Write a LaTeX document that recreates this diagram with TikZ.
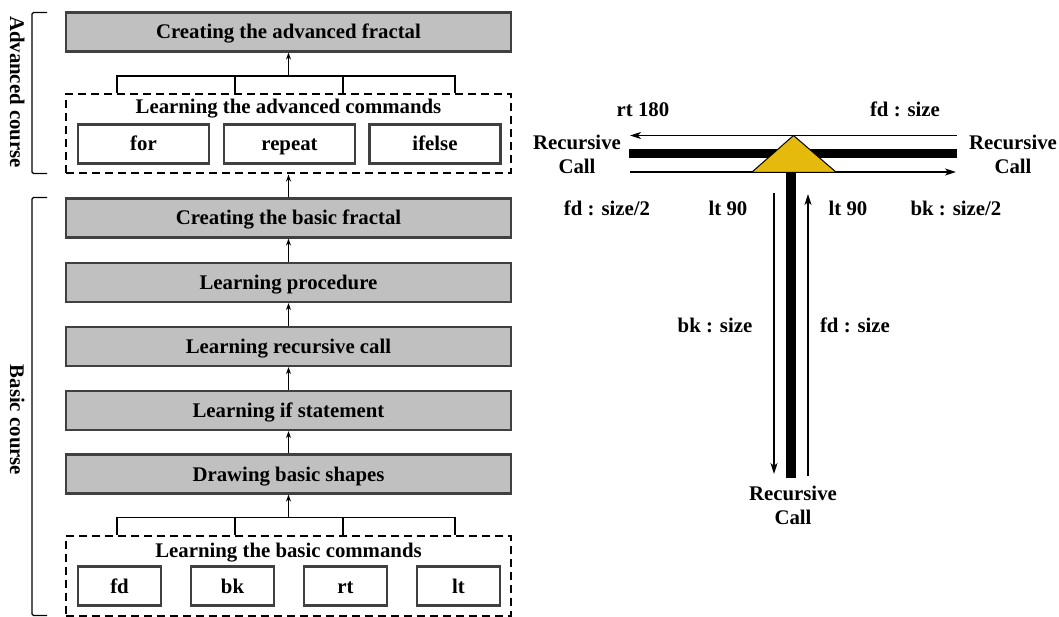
\documentclass[tikz,border=0pt]{standalone}
\usepackage{fontspec}
\setmainfont{Liberation Serif}
\usetikzlibrary{arrows.meta}
\definecolor{boxgray}{HTML}{C0C0C0}
\definecolor{boxline}{HTML}{404040}
\definecolor{triyellow}{HTML}{E6BA0C}
\newcommand{\lblfont}{\fontsize{20.8}{24}\selectfont\bfseries}
\begin{document}
\begin{tikzpicture}[x=1pt,y=-1pt,
  font=\lblfont,
  every node/.style={text height=17pt, text depth=3pt},
  stagebox/.style={draw=boxline, line width=2.2pt, fill=boxgray,
    minimum width=445pt, minimum height=39pt, inner sep=0pt},
  cmdbox/.style={draw=boxline, line width=2.2pt, fill=white,
    minimum height=39pt, inner sep=0pt},
  groupbox/.style={draw=black, line width=2pt, dash pattern=on 8pt off 5pt,
    minimum width=445pt, inner sep=0pt, text height=0pt, text depth=0pt},
  conn/.style={draw=black, line width=1.3pt},
  arr/.style={conn, -{Stealth[length=7pt,width=5pt]}},
  brk/.style={draw=black, line width=1.4pt, rounded corners=1.5pt},
  tline/.style={draw=black, line width=1.6pt},
  tarr/.style={tline, -{Stealth[length=11pt,width=7pt,inset=3pt]}},
  thick bar/.style={draw=black, line width=9.5pt},
  lbl/.style={inner sep=0pt, align=center},
  twoline/.style={lbl, text height=, text depth=}
]
\useasboundingbox (0,0) rectangle (1059,617);

% ---------- left column: course stages ----------
\node[stagebox] (adv) at (288.5,32) {Creating the advanced fractal};

\node[groupbox, minimum height=79pt] (advcmd) at (288.5,134) {};
\node[lbl] (advlbl) at (288.5,107) {Learning the advanced commands};
\node[cmdbox, minimum width=131pt] (cfor) at (143.5,144) {for};
\node[cmdbox, minimum width=131pt] (crep) at (289.5,144) {repeat};
\node[cmdbox, minimum width=131pt] (cife) at (435,144) {ifelse};

\node[stagebox] (basicf) at (288.5,218) {Creating the basic fractal};
\node[stagebox] (proc)   at (288.5,282.5) {Learning procedure};
\node[stagebox] (rec)    at (288.5,346.5) {Learning recursive call};
\node[stagebox] (ifst)   at (288.5,410.5) {Learning if statement};
\node[stagebox] (shapes) at (288.5,474) {Drawing basic shapes};

\node[groupbox, minimum height=80pt] (bascmd) at (288.5,575.5) {};
\node[lbl] (baslbl) at (288.5,550) {Learning the basic commands};
\node[cmdbox, minimum width=83pt] (cfd) at (119.5,586) {fd};
\node[cmdbox, minimum width=83pt] (cbk) at (232.5,586) {bk};
\node[cmdbox, minimum width=83pt] (crt) at (345.5,586) {rt};
\node[cmdbox, minimum width=83pt] (clt) at (458.5,586) {lt};

% comb joining the advanced commands
\coordinate (a1) at (117,76);
\coordinate (a2) at (235,76);
\coordinate (a3) at (343,76);
\coordinate (a4) at (455,76);
\coordinate (ahub) at (288.5,76);
\draw[conn] (a1 |- advcmd.north) -- (a1) -- (a4) -- (a4 |- advcmd.north);
\draw[conn] (a2) -- (a2 |- advcmd.north);
\draw[conn] (a3) -- (a3 |- advcmd.north);
\draw[arr] (ahub) -- (adv.south);

% comb joining the basic commands
\coordinate (b1) at (117,517.5);
\coordinate (b2) at (235,517.5);
\coordinate (b3) at (343,517.5);
\coordinate (b4) at (455,517.5);
\coordinate (bhub) at (288.5,517.5);
\draw[conn] (b1 |- bascmd.north) -- (b1) -- (b4) -- (b4 |- bascmd.north);
\draw[conn] (b2) -- (b2 |- bascmd.north);
\draw[conn] (b3) -- (b3 |- bascmd.north);
\draw[arr] (bhub) -- (shapes.south);

% stage arrows
\draw[arr] (basicf.north) -- (advcmd.south);
\draw[arr] (proc.north) -- (basicf.south);
\draw[arr] (rec.north) -- (proc.south);
\draw[arr] (ifst.north) -- (rec.south);
\draw[arr] (shapes.north) -- (ifst.south);

% course brackets
\draw[brk] (47,12.5) -- (32,12.5) -- (32,173.5) -- (47,173.5);
\draw[brk] (47,197.5) -- (32,197.5) -- (32,615.5) -- (47,615.5);
\node[lbl, rotate=-90] (advcourse) at (17,92) {Advanced course};
\node[lbl, rotate=-90] (bascourse) at (17,420) {Basic course};

% ---------- right: the turtle path of one T step ----------
\coordinate (barL) at (629,153.5);
\coordinate (barR) at (957,153.5);
\coordinate (stemT) at (791,172);
\coordinate (stemB) at (791,478);
\draw[thick bar] (barL) -- (barR);
\draw[thick bar] (stemT) -- (stemB);

\coordinate (topR) at (957,135.5);
\coordinate (topL) at (630,135.5);
\coordinate (botL) at (630,172);
\coordinate (botR) at (956,172);
\draw[tarr] (topR) -- (topL);
\draw[tarr] (botL) -- (botR);

\coordinate (downT) at (774,193);
\coordinate (downB) at (774,474);
\coordinate (upB) at (808,476);
\coordinate (upT) at (808,194);
\draw[tarr] (downT) -- (downB);
\draw[tarr] (upB) -- (upT);

\coordinate (apex) at (793.5,135.5);
\coordinate (baseR) at (836.5,172.5);
\coordinate (baseL) at (751.5,172.5);
\filldraw[fill=triyellow, draw=black, line width=1pt, line join=round]
  (apex) -- (baseR) -- (baseL) -- cycle;

\node[lbl] (rt180) at (643,110) {rt 180};
\node[lbl] (fdsize) at (905,110) {fd : size};
\node[twoline] (recL) at (577,154) {Recursive\\Call};
\node[twoline] (recR) at (1013,154) {Recursive\\Call};
\node[lbl] (fdhalf) at (607,209) {fd : size/2};
\node[lbl] (ltL) at (728,209) {lt 90};
\node[lbl] (ltR) at (848,209) {lt 90};
\node[lbl] (bkhalf) at (956,209) {bk : size/2};
\node[lbl] (bksize) at (715,325) {bk : size};
\node[lbl] (fdsize2) at (855,325) {fd : size};
\node[twoline] (recB) at (793,505) {Recursive\\Call};
\end{tikzpicture}
\end{document}
